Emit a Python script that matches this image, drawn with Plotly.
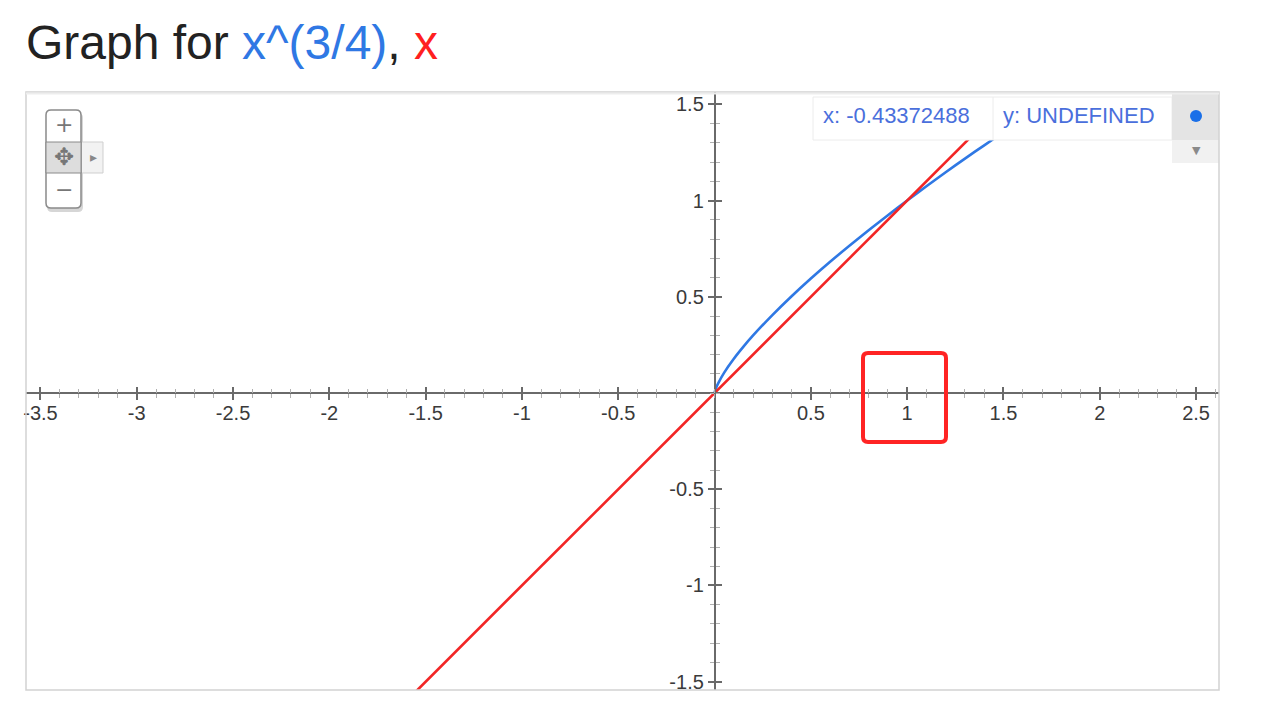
import plotly.graph_objects as go

# ---- data ----
blue_x = [0, 0.002, 0.008, 0.02, 0.05, 0.1, 0.15, 0.2, 0.3, 0.4, 0.5, 0.6, 0.7, 0.8, 0.9,
          1.0, 1.1, 1.2, 1.3, 1.4, 1.5, 1.6, 1.7, 1.8, 1.9, 2.0]
blue_y = [0, 0.009, 0.027, 0.053, 0.106, 0.178, 0.241, 0.299, 0.405, 0.503, 0.595, 0.682,
          0.765, 0.846, 0.924, 1.0, 1.074, 1.147, 1.218, 1.287, 1.355, 1.423, 1.489, 1.554,
          1.618, 1.682]
red_x = [-1.7, 1.7]
red_y = [-1.7, 1.7]

x_ticks = [-3.5, -3, -2.5, -2, -1.5, -1, -0.5, 0.5, 1, 1.5, 2, 2.5]
x_ticktext = ["-3.5", "-3", "-2.5", "-2", "-1.5", "-1", "-0.5", "0.5", "1", "1.5", "2", "2.5"]
y_ticks = [-1.5, -1, -0.5, 0.5, 1, 1.5]
y_ticktext = ["-1.5", "-1", "-0.5", "0.5", "1", "1.5"]

title_parts = ["Graph for ", "x^(3/4)", ", ", "x"]
hover_x_text = "x: -0.43372488"
hover_y_text = "y: UNDEFINED"
footer_text = "详细内容"

# ---- layout geometry ----
W, H = 1278, 706
L, R, T, B = 26, 1219, 92, 690
x_range = [-3.575, 2.619]
y_range = [-1.543, 1.564]

BLUE = "#2f78e4"
RED = "#f22525"
AXIS = "#6a6a6a"
MINOR = "#b0b0b0"


def px(xp):
    return (xp - L) / (R - L)


def py(yp):
    return (B - yp) / (B - T)


def rounded(x0, y0, x1, y1, r):
    """rounded rectangle path in paper coords from pixel corners (y0 top, y1 bottom)"""
    X = lambda v: f"{px(v):.6f}"
    Y = lambda v: f"{py(v):.6f}"
    return (f"M {X(x0 + r)} {Y(y0)} L {X(x1 - r)} {Y(y0)} Q {X(x1)} {Y(y0)} {X(x1)} {Y(y0 + r)} "
            f"L {X(x1)} {Y(y1 - r)} Q {X(x1)} {Y(y1)} {X(x1 - r)} {Y(y1)} "
            f"L {X(x0 + r)} {Y(y1)} Q {X(x0)} {Y(y1)} {X(x0)} {Y(y1 - r)} "
            f"L {X(x0)} {Y(y0 + r)} Q {X(x0)} {Y(y0)} {X(x0 + r)} {Y(y0)} Z")


xpos = (0 - y_range[0]) / (y_range[1] - y_range[0])
ypos = (0 - x_range[0]) / (x_range[1] - x_range[0])

fig = go.Figure()
fig.add_trace(go.Scatter(x=blue_x, y=blue_y, mode="lines", line=dict(color=BLUE, width=2.6, shape="spline", smoothing=0.6),
                         hoverinfo="skip", showlegend=False))
fig.add_trace(go.Scatter(x=red_x, y=red_y, mode="lines", line=dict(color=RED, width=2.6),
                         hoverinfo="skip", showlegend=False, xaxis="x2", yaxis="y2"))

tickfont = dict(family="Liberation Sans, Arial, sans-serif", size=20, color="#3a3a3a")

common_x = dict(range=x_range, anchor="free", position=xpos, showgrid=False, zeroline=False, fixedrange=True)
common_y = dict(range=y_range, anchor="free", position=ypos, showgrid=False, zeroline=False, fixedrange=True)

fig.update_layout(
    width=W, height=H, autosize=False,
    paper_bgcolor="white", plot_bgcolor="white",
    margin=dict(l=L, r=W - R, t=T, b=H - B, pad=0),
    showlegend=False,
    xaxis=dict(**common_x, side="bottom", showline=True, linecolor=AXIS, linewidth=1.5,
               tickmode="array", tickvals=x_ticks, ticktext=x_ticktext,
               ticks="outside", ticklen=6, tickwidth=1.5, tickcolor=AXIS, tickfont=tickfont,
               ticklabelstandoff=-4,
               minor=dict(tickmode="linear", tick0=0, dtick=0.1, ticks="outside", ticklen=4, tickwidth=1, tickcolor=MINOR)),
    yaxis=dict(**common_y, side="left", showline=True, linecolor=AXIS, linewidth=1.5,
               tickmode="array", tickvals=y_ticks, ticktext=y_ticktext,
               ticks="outside", ticklen=6, tickwidth=1.5, tickcolor=AXIS, tickfont=tickfont,
               minor=dict(tickmode="linear", tick0=0, dtick=0.1, ticks="outside", ticklen=4, tickwidth=1, tickcolor=MINOR)),
    xaxis2=dict(**common_x, overlaying="x", side="bottom", showline=False, showticklabels=False,
                tickmode="array", tickvals=x_ticks,
                ticks="inside", ticklen=6, tickwidth=1.5, tickcolor=AXIS,
                minor=dict(tickmode="linear", tick0=0, dtick=0.1, ticks="inside", ticklen=4, tickwidth=1, tickcolor=MINOR)),
    yaxis2=dict(**common_y, overlaying="y", side="left", showline=False, showticklabels=False,
                tickmode="array", tickvals=y_ticks,
                ticks="inside", ticklen=6, tickwidth=1.5, tickcolor=AXIS,
                minor=dict(tickmode="linear", tick0=0, dtick=0.1, ticks="inside", ticklen=4, tickwidth=1, tickcolor=MINOR)),
)

shapes = []
# hover readout box (covers the curves at the top)
shapes.append(dict(type="rect", xref="paper", yref="paper", x0=px(813), x1=px(1172), y0=py(140), y1=1,
                   fillcolor="white", line=dict(width=0), layer="above"))
shapes.append(dict(type="rect", xref="paper", yref="paper", x0=px(813), x1=px(1172), y0=py(140), y1=py(97),
                   fillcolor="white", line=dict(color="#ececec", width=1), layer="above"))
shapes.append(dict(type="line", xref="paper", yref="paper", x0=px(993), x1=px(993), y0=py(140), y1=py(97),
                   line=dict(color="#ececec", width=1), layer="above"))
# right gray panel
shapes.append(dict(type="rect", xref="paper", yref="paper", x0=px(1172), x1=px(1219), y0=py(140), y1=1,
                   fillcolor="#e4e4e4", line=dict(width=0), layer="above"))
shapes.append(dict(type="rect", xref="paper", yref="paper", x0=px(1172), x1=px(1219), y0=py(163), y1=py(140),
                   fillcolor="#f1f1f1", line=dict(width=0), layer="above"))
shapes.append(dict(type="circle", xref="paper", yref="paper", x0=px(1190), x1=px(1202), y0=py(122), y1=py(110),
                   fillcolor="#1a6fe8", line=dict(width=0), layer="above"))
# plot frame
shapes.append(dict(type="rect", xref="paper", yref="paper", x0=0, x1=1, y0=0, y1=1,
                   line=dict(color="#d2d2d2", width=1.5), layer="above"))
shapes.append(dict(type="line", xref="paper", yref="paper", x0=0, x1=1, y0=py(93.5), y1=py(93.5),
                   line=dict(color="#ededed", width=2), layer="above"))
# zoom widget
shapes.append(dict(type="path", xref="paper", yref="paper", path=rounded(47, 113, 83, 212, 5),
                   fillcolor="#d6d6d6", line=dict(width=0), layer="above"))
shapes.append(dict(type="rect", xref="paper", yref="paper", x0=px(81), x1=px(103), y0=py(173), y1=py(142),
                   fillcolor="#f2f2f2", line=dict(color="#cfcfcf", width=1), layer="above"))
shapes.append(dict(type="path", xref="paper", yref="paper", path=rounded(46, 110, 81, 208, 5),
                   fillcolor="white", line=dict(color="#8a8a8a", width=1.5), layer="above"))
shapes.append(dict(type="rect", xref="paper", yref="paper", x0=px(46), x1=px(81), y0=py(173), y1=py(142),
                   fillcolor="#dddddd", line=dict(color="#8a8a8a", width=1), layer="above"))
# red highlight box around tick "1"
shapes.append(dict(type="path", xref="paper", yref="paper", path=rounded(863, 353, 946, 442, 5),
                   fillcolor="rgba(0,0,0,0)", line=dict(color="#ff2424", width=4), layer="above"))
fig.update_layout(shapes=shapes)

title_html = (f"<span style='color:#222222'>{title_parts[0]}</span>"
              f"<span style='color:{BLUE}'>{title_parts[1]}</span>"
              f"<span style='color:#222222'>{title_parts[2]}</span>"
              f"<span style='color:#ff1f1f'>{title_parts[3]}</span>")

ann = []
ann.append(dict(text=title_html, xref="paper", yref="paper", x=px(24), y=py(43), xanchor="left", yanchor="middle",
                showarrow=False, font=dict(family="Liberation Sans, Arial, sans-serif", size=48, color="#222")))
hfont = dict(family="Liberation Sans, Arial, sans-serif", size=22, color="#4a6fdc")
ann.append(dict(text=hover_x_text, xref="paper", yref="paper", x=px(821), y=py(116), xanchor="left", yanchor="middle",
                showarrow=False, font=hfont))
ann.append(dict(text=hover_y_text, xref="paper", yref="paper", x=px(1001), y=py(116), xanchor="left", yanchor="middle",
                showarrow=False, font=hfont))
ann.append(dict(text="▼", xref="paper", yref="paper", x=px(1196), y=py(150), xanchor="center", yanchor="middle",
                showarrow=False, font=dict(family="DejaVu Sans", size=11, color="#8a8a8a")))
ann.append(dict(text="+", xref="paper", yref="paper", x=px(63.5), y=py(125), xanchor="center", yanchor="middle",
                showarrow=False, font=dict(family="DejaVu Sans", size=22, color="#777")))
ann.append(dict(text="−", xref="paper", yref="paper", x=px(63.5), y=py(189), xanchor="center", yanchor="middle",
                showarrow=False, font=dict(family="DejaVu Sans", size=22, color="#777")))
ann.append(dict(text="✥", xref="paper", yref="paper", x=px(63.5), y=py(157), xanchor="center", yanchor="middle",
                showarrow=False, font=dict(family="DejaVu Sans", size=24, color="#777")))
ann.append(dict(text="▸", xref="paper", yref="paper", x=px(93), y=py(157), xanchor="center", yanchor="middle",
                showarrow=False, font=dict(family="DejaVu Sans", size=14, color="#888")))
ann.append(dict(text=footer_text, xref="paper", yref="paper", x=px(1126), y=py(699), xanchor="left", yanchor="top",
                showarrow=False, font=dict(family="Noto Sans CJK SC", size=22, color="#9a9a9a")))
fig.update_layout(annotations=ann)

fig.write_html("out.html", config={"displayModeBar": False},
               post_script="document.body.style.margin='0px';")
